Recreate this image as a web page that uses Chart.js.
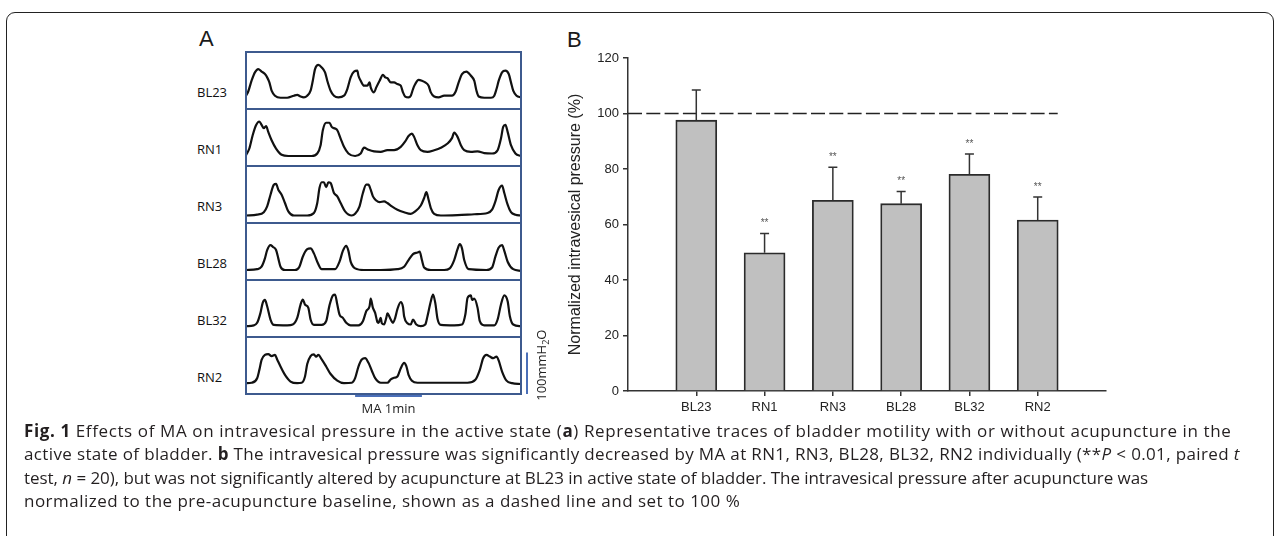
<!DOCTYPE html>
<html>
<head>
<meta charset="utf-8">
<title>Fig. 1</title>
<script src="https://cdn.jsdelivr.net/npm/chart.js@4.4.1/dist/chart.umd.min.js"></script>
<style>
  body { margin: 0; width: 1282px; height: 536px; background: #fff; position: relative; overflow: hidden; font-family: Arial, "Liberation Sans", sans-serif; }
  .abs { position: absolute; }
  #frame { left: 6px; top: 12px; width: 1268px; height: 600px; border: 1.5px solid #222; border-radius: 9px; box-sizing: border-box; }
  .panel { font-size: 22px; color: #1a1a1a; line-height: 22px; }
  .row { font-family: "Open Sans", sans-serif; font-size: 13px; color: #111; left: 197px; line-height: 18px; }
  #caption { left: 24px; top: 419px; font-family: "Open Sans", sans-serif; font-size: 17px; color: #231f20; line-height: 23.4px; white-space: nowrap; }
  canvas { position: absolute; }
</style>
</head>
<body>
<div id="frame" class="abs"></div>
<div class="abs panel" style="left:199px; top:28px;">A</div>
<div class="abs panel" style="left:567px; top:29px;">B</div>
<div id="rows"></div>
<canvas id="barChart" width="580" height="410" style="left:540px; top:20px;"></canvas>
<div id="caption" class="abs">
  <div><b>Fig. 1</b> Effects of MA on intravesical pressure in the active state (<b>a</b>) Representative traces of bladder motility with or without acupuncture in the</div>
  <div>active state of bladder. <b>b</b> The intravesical pressure was significantly decreased by MA at RN1, RN3, BL28, BL32, RN2 individually (**<i>P</i> &lt; 0.01, paired <i>t</i></div>
  <div>test, <i>n</i> = 20), but was not significantly altered by acupuncture at BL23 in active state of bladder. The intravesical pressure after acupuncture was</div>
  <div>normalized to the pre-acupuncture baseline, shown as a dashed line and set to 100 %</div>
</div>
<script>
// Panel B data
const categories = ["BL23", "RN1", "RN3", "BL28", "BL32", "RN2"];
const meanPressure = [97.6, 49.8, 68.7, 67.5, 78.1, 61.6];
const errPressure = [10.9, 7.0, 11.9, 4.4, 7.3, 8.3];
const significance = ["", "**", "**", "**", "**", "**"];
const yTicks = [0, 20, 40, 60, 80, 100, 120];
const baselineLevel = 100;

// Panel A traces: [time (s), pressure (mmH2O)]
const traceBL23 = [[0,32],[2,42],[5,68],[8,88],[11,96],[14,90],[17,84],[19,76],[21,64],[23,44],[26,32],[31,27],[37,27],[43,32],[46,34],[49,30],[52,28],[55,32],[58,44],[60,68],[62,96],[65,106],[68,100],[71,88],[73,68],[76,44],[79,32],[83,28],[88,32],[91,48],[94,76],[97,90],[100,92],[101,80],[103,68],[106,56],[109,56],[111,64],[112,52],[115,40],[117,52],[120,68],[123,82],[125,76],[127,74],[130,64],[133,64],[136,60],[139,56],[141,40],[143,30],[146,28],[148,32],[150,48],[152,60],[155,70],[158,68],[161,64],[164,56],[166,40],[169,30],[173,28],[178,32],[185,32],[188,40],[191,64],[194,84],[198,90],[202,80],[205,68],[207,44],[209,30],[214,27],[220,27],[223,32],[225,48],[227,68],[230,88],[233,92],[236,84],[238,64],[240,44],[243,32],[247,28]];
const traceRN1 = [[0,26],[3,42],[6,74],[9,98],[12,107],[14,99],[16,91],[18,96],[20,82],[23,62],[27,42],[32,27],[38,24],[49,24],[59,24],[64,30],[67,50],[69,86],[72,104],[75,104],[77,94],[80,90],[82,86],[85,66],[88,46],[92,30],[98,24],[103,30],[106,44],[110,39],[115,35],[121,34],[127,38],[133,38],[139,46],[143,59],[146,72],[149,78],[151,70],[154,50],[157,38],[163,34],[169,38],[175,44],[181,54],[185,67],[187,80],[190,70],[193,50],[196,38],[202,34],[208,35],[214,31],[221,30],[226,38],[229,66],[231,94],[233,99],[235,82],[238,50],[242,30],[247,24]];
const traceRN3 = [[0,18],[10,20],[16,26],[19,40],[22,68],[25,92],[27,94],[29,80],[32,68],[35,48],[38,28],[43,18],[55,18],[61,24],[64,48],[66,84],[68,98],[70,98],[72,86],[74,98],[76,96],[79,72],[82,64],[85,48],[89,28],[95,18],[98,22],[102,40],[105,72],[108,92],[110,92],[112,80],[114,64],[117,54],[120,50],[124,52],[127,48],[131,40],[136,32],[142,26],[148,22],[152,28],[157,42],[160,60],[162,74],[164,56],[166,36],[169,22],[175,18],[190,19],[205,21],[217,24],[221,32],[224,52],[227,80],[230,90],[232,72],[235,44],[238,26],[242,20],[247,18]];
const traceBL28 = [[0,24],[10,26],[14,32],[17,52],[19,72],[22,84],[24,80],[27,72],[29,52],[31,32],[35,24],[44,24],[48,32],[51,56],[55,74],[58,76],[61,64],[64,44],[68,26],[80,26],[84,44],[87,70],[90,82],[92,70],[94,44],[98,28],[106,24],[121,24],[136,26],[142,32],[146,48],[150,62],[154,66],[156,68],[158,48],[160,30],[166,24],[178,24],[183,28],[187,48],[190,74],[192,86],[194,76],[196,48],[200,26],[216,24],[221,30],[224,56],[227,78],[230,84],[232,70],[235,44],[240,26],[247,22]];
const traceBL32 = [[0,26],[7,28],[10,34],[13,58],[15,82],[17,89],[19,74],[22,42],[25,29],[37,28],[42,30],[46,46],[49,78],[51,90],[53,78],[56,70],[58,42],[61,29],[68,29],[72,38],[75,76],[78,100],[80,102],[82,78],[84,54],[87,46],[90,34],[94,28],[101,28],[105,38],[108,62],[111,74],[112,92],[114,70],[116,58],[118,36],[119,34],[121,46],[122,33],[124,30],[126,46],[127,57],[130,42],[132,34],[134,46],[136,67],[139,84],[141,72],[142,50],[145,33],[148,30],[150,42],[153,30],[157,26],[161,30],[163,50],[166,86],[168,102],[170,82],[172,44],[175,29],[187,28],[194,30],[197,54],[199,94],[202,100],[203,89],[205,92],[208,70],[210,38],[214,28],[223,28],[226,42],[229,78],[232,100],[235,86],[237,50],[240,30],[247,26]];
const traceRN2 = [[0,26],[5,27],[10,38],[12,58],[14,82],[17,94],[20,96],[23,91],[26,94],[28,83],[31,66],[35,46],[40,30],[46,26],[50,27],[53,42],[55,72],[58,91],[61,95],[63,90],[65,94],[68,83],[72,66],[76,48],[82,32],[88,26],[95,27],[98,38],[101,66],[104,83],[107,86],[110,75],[113,56],[116,38],[121,27],[127,27],[130,35],[133,39],[136,42],[139,62],[142,75],[144,67],[146,46],[149,32],[154,27],[175,27],[199,27],[206,34],[210,58],[213,86],[216,94],[219,90],[222,86],[225,90],[227,80],[230,54],[234,32],[239,26],[247,24]];

const traceLabels = ["BL23", "RN1", "RN3", "BL28", "BL32", "RN2"];
const traces = [traceBL23, traceRN1, traceRN3, traceBL28, traceBL32, traceRN2];
const scaleBarTime = [98, 158];      // MA 1min
const scaleBarPressure = [0, 100];   // 100 mmH2O

const boxTop = 52;
const boxHeight = 56.9;
const axisFont = "Arial, 'Liberation Sans', sans-serif";

// Frame around each trace
const boxFrame = {
  id: "boxFrame",
  afterDraw(chart) {
    const { ctx, chartArea: a } = chart;
    ctx.save();
    ctx.strokeStyle = "#3d5a8e";
    ctx.lineWidth = 2;
    ctx.strokeRect(a.left, a.top, a.right - a.left, a.bottom - a.top);
    ctx.restore();
  }
};

// Scale bars beside the last trace
const scaleBars = {
  id: "scaleBars",
  afterDraw(chart) {
    const { ctx, chartArea: a } = chart;
    const x = chart.scales.x, y = chart.scales.y;
    const y0 = y.getPixelForValue(scaleBarPressure[0]);
    const y1 = y.getPixelForValue(scaleBarPressure[1]);
    ctx.save();
    ctx.strokeStyle = "#4a6fb8";
    ctx.lineWidth = 2;
    ctx.beginPath();
    ctx.moveTo(x.getPixelForValue(scaleBarTime[0]), a.bottom + 2);
    ctx.lineTo(x.getPixelForValue(scaleBarTime[1]), a.bottom + 2);
    const vx = a.right + 6;
    ctx.moveTo(vx, y0);
    ctx.lineTo(vx, y1);
    ctx.stroke();

    ctx.fillStyle = "#222";
    ctx.font = "13px 'Open Sans', sans-serif";
    ctx.textAlign = "center";
    ctx.textBaseline = "middle";
    ctx.fillText("MA 1min", (x.getPixelForValue(scaleBarTime[0]) + x.getPixelForValue(scaleBarTime[1])) / 2, a.bottom + 15);

    // rotated 100mmH2O
    ctx.translate(a.right + 21, (y0 + y1) / 2 - 8);
    ctx.rotate(-Math.PI / 2);
    ctx.textAlign = "left";
    const big = "13px 'Open Sans', sans-serif", small = "9px 'Open Sans', sans-serif";
    ctx.font = big; const w1 = ctx.measureText("100mmH").width;
    ctx.font = small; const w2 = ctx.measureText("2").width;
    ctx.font = big; const w3 = ctx.measureText("O").width;
    const sx = -(w1 + w2 + w3) / 2;
    ctx.fillText("100mmH", sx, 0);
    ctx.font = small; ctx.fillText("2", sx + w1, 4);
    ctx.font = big; ctx.fillText("O", sx + w1 + w2, 0);
    ctx.restore();
  }
};

const rowsDiv = document.getElementById("rows");
traces.forEach((trace, i) => {
  const top = boxTop + i * boxHeight;
  const last = i === traces.length - 1;
  const padTop = last ? 30 : 2;
  const canvas = document.createElement("canvas");
  canvas.width = 320;
  canvas.height = last ? 116 : 60;
  canvas.style.left = "244px";
  canvas.style.top = (top - padTop) + "px";
  document.body.appendChild(canvas);

  const label = document.createElement("div");
  label.className = "abs row";
  label.style.top = (top + 31) + "px";
  label.textContent = traceLabels[i];
  rowsDiv.appendChild(label);

  new Chart(canvas, {
    type: "line",
    data: {
      datasets: [{
        data: trace.map(p => ({ x: p[0], y: p[1] })),
        borderColor: "#111",
        borderWidth: 2.2,
        pointRadius: 0,
        cubicInterpolationMode: "monotone"
      }]
    },
    options: {
      responsive: false,
      animation: false,
      devicePixelRatio: 1,
      layout: { padding: { left: 2, top: padTop, right: canvas.width - 2 - 275, bottom: canvas.height - padTop - Math.round(boxHeight) } },
      plugins: { legend: { display: false }, tooltip: { enabled: false } },
      scales: {
        x: { type: "linear", min: 0, max: 247, display: false },
        y: { min: 0, max: 137, display: false }
      }
    },
    plugins: last ? [boxFrame, scaleBars] : [boxFrame]
  });
});

// Error bars, significance stars and baseline for panel B
const barExtras = {
  id: "barExtras",
  afterDatasetsDraw(chart) {
    const { ctx, chartArea: a } = chart;
    const x = chart.scales.x, y = chart.scales.y;
    ctx.save();
    // dashed baseline
    ctx.strokeStyle = "#222";
    ctx.lineWidth = 1.5;
    ctx.setLineDash([14, 4.3]);
    ctx.beginPath();
    const yb = y.getPixelForValue(baselineLevel);
    ctx.moveTo(a.left, yb);
    ctx.lineTo(x.getPixelForValue(categories.length) + 20, yb);
    ctx.stroke();
    ctx.setLineDash([]);

    ctx.strokeStyle = "#333";
    ctx.fillStyle = "#555";
    ctx.font = "10px " + axisFont;
    ctx.textAlign = "center";
    ctx.textBaseline = "middle";
    categories.forEach((c, i) => {
      const px = x.getPixelForValue(i + 1);
      const y0 = y.getPixelForValue(meanPressure[i]);
      const y1 = y.getPixelForValue(meanPressure[i] + errPressure[i]);
      ctx.beginPath();
      ctx.moveTo(px, y0);
      ctx.lineTo(px, y1);
      ctx.moveTo(px - 4.5, y1);
      ctx.lineTo(px + 4.5, y1);
      ctx.stroke();
      if (significance[i]) ctx.fillText(significance[i], px, y1 - 10);
    });
    ctx.restore();
  }
};

new Chart(document.getElementById("barChart"), {
  type: "bar",
  data: {
    datasets: [{
      data: categories.map((c, i) => ({ x: i + 1, y: meanPressure[i] })),
      backgroundColor: "#c0c0c0",
      borderColor: "#2b2b2b",
      borderWidth: 1.8,
      barThickness: 41
    }]
  },
  options: {
    responsive: false,
    animation: false,
    devicePixelRatio: 1,
    layout: { padding: { left: 26, top: 38, right: 14, bottom: 0 } },
    plugins: { legend: { display: false }, tooltip: { enabled: false } },
    scales: {
      x: {
        type: "linear",
        min: 0,
        max: 7,
        offset: false,
        afterBuildTicks: s => { s.ticks = categories.map((c, i) => ({ value: i + 1 })); },
        ticks: { callback: v => categories[v - 1] || "", font: { size: 13, family: axisFont }, color: "#222", padding: 4, autoSkip: false, maxRotation: 0 },
        grid: { drawOnChartArea: false, offset: false, tickLength: 5, color: "#333", lineWidth: 1.5 },
        border: { color: "#333", width: 1.5 },
        afterFit: s => { s.height = 39; }
      },
      y: {
        min: 0,
        max: 120,
        afterBuildTicks: s => { s.ticks = yTicks.map(v => ({ value: v })); },
        ticks: { font: { size: 13, family: axisFont }, color: "#222", padding: 4 },
        grid: { drawOnChartArea: false, tickLength: 5, color: "#333", lineWidth: 1.5 },
        border: { color: "#333", width: 1.5 },
        title: { display: true, text: "Normalized intravesical pressure (%)", font: { size: 16, family: axisFont }, color: "#222", padding: 0 },
        afterFit: s => { s.width = 62; }
      }
    }
  },
  plugins: [barExtras]
});

// stretch each caption line to the width it has in the original column
const captionWidths = [1208, 1216, 1124, 716];
document.querySelectorAll("#caption > div").forEach((d, i) => {
  const range = document.createRange();
  range.selectNodeContents(d);
  const w = range.getBoundingClientRect().width;
  const spacing = (captionWidths[i] - w) / d.textContent.trim().length;
  d.style.letterSpacing = spacing.toFixed(2) + "px";
});
</script>
</body>
</html>
